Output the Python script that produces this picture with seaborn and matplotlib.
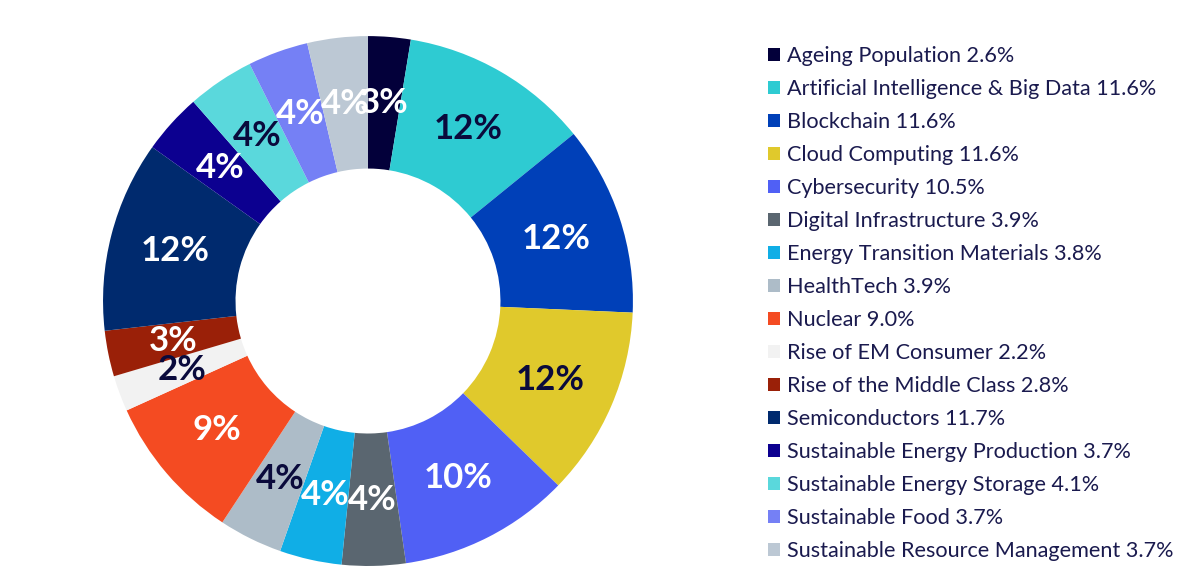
import matplotlib
matplotlib.use("Agg")
import matplotlib.pyplot as plt
from matplotlib.patches import Patch
import numpy as np
import seaborn as sns

categories = [
    "Ageing Population", "Artificial Intelligence & Big Data", "Blockchain",
    "Cloud Computing", "Cybersecurity", "Digital Infrastructure",
    "Energy Transition Materials", "HealthTech", "Nuclear",
    "Rise of EM Consumer", "Rise of the Middle Class", "Semiconductors",
    "Sustainable Energy Production", "Sustainable Energy Storage",
    "Sustainable Food", "Sustainable Resource Management",
]
values = [2.6, 11.6, 11.6, 11.6, 10.5, 3.9, 3.8, 3.9, 9.0, 2.2, 2.8, 11.7,
          3.7, 4.1, 3.7, 3.7]
colors = ["#03003a", "#2ecbd2", "#0040b8", "#e0c92c", "#5060f5", "#5a6670",
          "#10aee6", "#adbcc8", "#f44b22", "#f2f2f2", "#9a2008", "#002a6e",
          "#0c0090", "#5ad8dc", "#7580f5", "#bcc8d4"]
dark_label = ["Artificial Intelligence & Big Data", "Cloud Computing",
              "HealthTech", "Rise of EM Consumer", "Sustainable Energy Storage"]

sns.set_theme(style="white")
plt.rcParams["font.family"] = ["Lato", "DejaVu Sans"]

palette = sns.color_palette(colors)
navy = "#0a0a3c"

fig = plt.figure(figsize=(12, 5.71), dpi=100)
ax = fig.add_axes([0.0858, 0.0088, 0.4417, 0.928])

wedges, texts = ax.pie(values, colors=palette, startangle=90, counterclock=False,
                       radius=1.0, wedgeprops=dict(width=0.5, linewidth=0))
ax.set_xlim(-1, 1)
ax.set_ylim(-1, 1)
ax.set_aspect("equal")
ax.axis("off")

for w, v, c in zip(wedges, values, categories):
    ang = np.deg2rad((w.theta1 + w.theta2) / 2)
    r = 0.75
    ax.text(r * np.cos(ang), r * np.sin(ang), f"{v:.0f}%",
            ha="center", va="center", fontsize=25, fontweight="bold",
            color=navy if c in dark_label else "white")

handles = [Patch(facecolor=col, edgecolor="none") for col in palette]
labels = [f"{c} {v:.1f}%" for c, v in zip(categories, values)]
leg = fig.legend(handles, labels, loc="upper left",
                 bbox_to_anchor=(0.6325, 0.935), frameon=False,
                 fontsize=15.6, handlelength=0.55, handleheight=0.55,
                 handletextpad=0.35, labelspacing=0.6, borderaxespad=0)
for t in leg.get_texts():
    t.set_color("#1a1a4e")

fig.savefig("out.png", dpi=100, facecolor="white")
